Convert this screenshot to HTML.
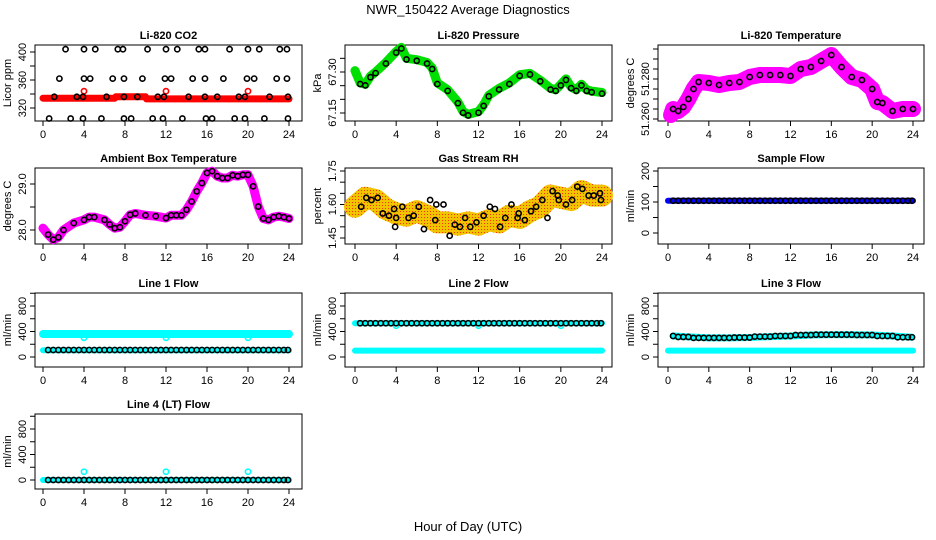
<!DOCTYPE html>
<html><head><meta charset="utf-8"><style>
body{margin:0;background:#fff;}
svg{display:block;font-family:"Liberation Sans",sans-serif;}
</style></head><body>
<svg id="chart" width="936" height="540" xmlns="http://www.w3.org/2000/svg">
<text x="468" y="14" text-anchor="middle" font-size="13">NWR_150422  Average Diagnostics</text>
<text x="468" y="531" text-anchor="middle" font-size="13">Hour of Day (UTC)</text>
</svg>
<script>
// ---- data ----
const xTicks=[0,4,8,12,16,20,24];
const halfHours=[0.5,1,1.5,2,2.5,3,3.5,4,4.5,5,5.5,6,6.5,7,7.5,8,8.5,9,9.5,10,10.5,11,11.5,12,12.5,13,13.5,14,14.5,15,15.5,16,16.5,17,17.5,18,18.5,19,19.5,20,20.5,21,21.5,22,22.5,23,23.5,23.9];
const co2Hours404=[2.2,4,5.1,7.3,7.8,10.2,12,13.1,15.2,15.8,18.2,20,21.1,23.1,23.8];
const co2Hours362=[1.6,4,4.6,6.8,7.9,9.7,11.9,12.5,14.6,15.8,17.6,19.9,20.6,22.8,23.8];
const co2Hours336=[1.1,3.3,3.9,6.2,7.9,9.2,11.2,11.8,14.2,15.8,17,19.1,19.7,22.1,23.9];
const co2Hours305=[0.6,2.7,3.9,5.7,7.9,8.6,10.7,11.7,13.6,15.9,16.5,18.7,19.7,21.6,23.9];
const co2BandHours=[0,7,7.1,10,10.1,24];
const co2BandValues=[334,334,336,336,333,333];
const spikeHours=[4,12,20];
const co2Spike=[344,344,344];
const presHours=[0,0.5,1,1.5,2,3,4,4.5,5,6,7,7.5,8,9,10,10.5,11,12,12.5,13,14,15,16,17,18,19,19.5,20,20.5,21,21.5,22,22.5,23,24];
const presValues=[67.305,67.26,67.255,67.285,67.30,67.335,67.375,67.39,67.35,67.345,67.335,67.315,67.26,67.235,67.19,67.155,67.145,67.155,67.18,67.215,67.24,67.26,67.29,67.295,67.27,67.24,67.235,67.255,67.275,67.245,67.235,67.255,67.235,67.23,67.225];
const tempHours=[0.3,0.5,1,1.5,2,2.5,3,4,5,6,7,8,9,10,11,12,13,14,15,16,17,18,19,20,20.5,21,22,23,24];
const tempValues=[51.262,51.265,51.264,51.266,51.270,51.275,51.2785,51.278,51.277,51.278,51.2785,51.281,51.282,51.282,51.282,51.2815,51.285,51.286,51.289,51.292,51.286,51.281,51.2795,51.275,51.2685,51.268,51.264,51.265,51.265];
const ambHours=[0,0.5,1,1.5,2,3,4,4.5,5,6,6.5,7,7.5,8,8.5,9,10,11,12,12.5,13,13.5,14,14.5,15,15.5,16,16.5,17,17.5,18,18.5,19,19.5,20,20.5,21,21.5,22,22.5,23,23.5,24];
const ambValues=[28.04,27.9,27.79,27.84,28.0,28.15,28.22,28.28,28.28,28.22,28.12,28.04,28.06,28.19,28.33,28.36,28.32,28.30,28.26,28.32,28.32,28.32,28.44,28.62,28.84,29.02,29.24,29.28,29.17,29.13,29.13,29.19,29.17,29.20,29.20,28.95,28.51,28.25,28.22,28.28,28.30,28.28,28.25];
const rhHours=[0,1,2,3,4,5,6,7,8,9,10,11,12,13,14,15,16,17,18,19,20,21,22,23,24];
const rhValues=[1.59,1.63,1.62,1.58,1.56,1.55,1.57,1.55,1.52,1.52,1.51,1.52,1.51,1.53,1.52,1.55,1.54,1.57,1.59,1.64,1.63,1.62,1.66,1.64,1.64];
const rhPtHours=[0.6,1.1,1.6,2.2,2.7,3.3,3.8,3.9,4,4.6,5.2,5.7,6.2,6.7,7.3,7.8,7.9,8.6,9.2,9.7,10.2,10.7,11.2,11.8,12.5,13.1,13.6,14.1,14.6,15.2,15.8,15.9,16.5,17.1,17.6,18.2,18.7,19.2,19.7,19.8,20.5,21.1,21.6,22.1,22.7,23.2,23.8,23.9];
const rhPtValues=[1.59,1.63,1.62,1.63,1.56,1.55,1.58,1.50,1.54,1.59,1.54,1.55,1.59,1.49,1.62,1.53,1.60,1.60,1.46,1.51,1.50,1.54,1.50,1.52,1.55,1.59,1.58,1.50,1.54,1.60,1.54,1.56,1.53,1.57,1.59,1.62,1.54,1.66,1.64,1.62,1.60,1.62,1.68,1.67,1.64,1.64,1.65,1.62];
const sampleFlow=104;
const line1High=360, line1Low=105, line1Dip=300;
const line2High=530, line2Low=100, line2Dip=490;
const line3Hours=[0.5,2,4,6,8,10,12,14,16,18,20,22,23.9];
const line3Values=[330,315,300,300,305,320,330,345,350,350,345,330,310];
const line3Low=100;
const line4Base=0, line4Spike=130;

// ---- drawing helpers ----
const svg=document.getElementById('chart');
const NS='http://www.w3.org/2000/svg';
function mk(tag,attrs,parent){const e=document.createElementNS(NS,tag);for(const k in attrs)e.setAttribute(k,attrs[k]);(parent||svg).appendChild(e);return e;}
const defs=mk('defs',{});
const pat=mk('pattern',{id:'rhdots',width:3,height:3,patternUnits:'userSpaceOnUse'},defs);
mk('rect',{width:3,height:3,fill:'#f2c400'},pat);
mk('rect',{x:1,y:1,width:1,height:1,fill:'#ff3300'},pat);
const cols=[{L:35,R:302,x0:43,x24:289},{L:345,R:612,x0:355,x24:602},{L:658,R:924,x0:668,x24:913}];
const rows=[{T:45,B:121},{T:168,B:244},{T:293,B:367},{T:414,B:489}];
function panel(name,title,ylab,c,r,v1,p1,v2,p2,ticks,labels){
  const C=cols[c],R=rows[r];
  const g=mk('g',{});
  
  
  const X=h=>C.x0+(h/24)*(C.x24-C.x0);
  const Y=v=>p1+(v-v1)*(p2-p1)/(v2-v1);
  const t=mk('text',{x:(C.L+C.R)/2,y:R.T-6,'text-anchor':'middle','font-size':11,'font-weight':'bold'},g);
  t.textContent=title;
  
  
  mk('rect',{x:C.L,y:R.T,width:C.R-C.L,height:R.B-R.T,fill:'none',stroke:'#000','stroke-width':1},g);
  xTicks.forEach(h=>{mk('line',{x1:X(h),x2:X(h),y1:R.B,y2:R.B+5,stroke:'#000'},g);
    const l=mk('text',{x:X(h),y:R.B+17,'text-anchor':'middle','font-size':11},g);l.textContent=h;
    
    });
  ticks.forEach(v=>{mk('line',{x1:C.L-5,x2:C.L,y1:Y(v),y2:Y(v),stroke:'#000'},g);});
  labels.forEach(v=>{const yy=Y(v[0]);const l=mk('text',{x:C.L-9,y:yy,'text-anchor':'middle','font-size':11,transform:`rotate(-90 ${C.L-9} ${yy})`},g);l.textContent=v[1];
    
    });
  const yl=mk('text',{x:C.L-24,y:(R.T+R.B)/2,'text-anchor':'middle','font-size':11,transform:`rotate(-90 ${C.L-24} ${(R.T+R.B)/2})`},g);
  yl.textContent=ylab;
  
  
  const clip=mk('g',{},g);
  return {X,Y,g:clip};
}
function band(P,hs,vs,color,w,name){
  const pts=hs.map((h,i)=>P.X(h)+','+P.Y(vs[i])).join(' ');
  const e=mk('polyline',{points:pts,fill:'none',stroke:color,'stroke-width':w,'stroke-linejoin':'round','stroke-linecap':'round'},P.g);
  
  
}
function pts(P,hs,vs,color,name,r){
  hs.forEach((h,i)=>{const e=mk('circle',{cx:P.X(h),cy:P.Y(vs[i]),r:r||2.6,fill:'none',stroke:color,'stroke-width':1.6},P.g);
    
    });
}
const rep=(n,v)=>Array(n).fill(v);
const full=[0,24];

// CO2
let P=panel('co2','Li-820 CO2','Licor ppm',0,0,400,52,320,108,[320,340,360,380,400],[[320,'320'],[360,'360'],[400,'400']]);
band(P,co2BandHours,co2BandValues,'#f00',7,'co2-band');
pts(P,spikeHours,co2Spike,'#f00','co2-spike-point');
pts(P,co2Hours404,rep(15,404),'#000','co2-point');
pts(P,co2Hours362,rep(15,362),'#000','co2-point');
pts(P,co2Hours336,rep(15,336),'#000','co2-point');
pts(P,co2Hours305,rep(15,305),'#000','co2-point');
// Pressure
P=panel('pressure','Li-820 Pressure','kPa',1,0,67.30,72,67.15,113,[67.15,67.20,67.25,67.30,67.35],[[67.15,'67.15'],[67.30,'67.30']]);
band(P,presHours,presValues,'#00e000',9,'pressure-band');
pts(P,presHours.slice(1),presValues.slice(1).map(v=>v-0.004),'#000','pressure-point');
// Temperature
P=panel('temperature','Li-820 Temperature','degrees C',2,0,51.280,79,51.260,119,[51.26,51.265,51.27,51.275,51.28,51.285,51.29,51.295],[[51.26,'51.260'],[51.28,'51.280']]);
band(P,tempHours,tempValues,'#f0f',16,'temperature-band');
pts(P,tempHours.slice(1),tempValues.slice(1),'#000','temperature-point');
// Ambient
P=panel('ambient','Ambient Box Temperature','degrees C',0,1,29.0,184,28.0,230,[28.0,28.5,29.0],[[28.0,'28.0'],[29.0,'29.0']]);
band(P,ambHours,ambValues,'#f0f',9,'ambient-band');
pts(P,ambHours.slice(1),ambValues.slice(1),'#000','ambient-point');
// RH
P=panel('rh','Gas Stream RH','percent',1,1,1.75,171,1.45,238,[1.45,1.5,1.55,1.6,1.65,1.7,1.75],[[1.45,'1.45'],[1.60,'1.60'],[1.75,'1.75']]);
band(P,rhHours,rhValues,'url(#rhdots)',22,'rh-band');
pts(P,rhPtHours,rhPtValues,'#000','rh-point');
// Sample flow
P=panel('sample-flow','Sample Flow','ml/min',2,1,200,171,0,233,[0,50,100,150,200],[[0,'0'],[100,'100'],[200,'200']]);
band(P,full,[sampleFlow,sampleFlow],'#00f',6,'sample-flow-band');
pts(P,halfHours,rep(halfHours.length,sampleFlow),'#000','sample-flow-point');
// Line 1
const fTicks=[0,200,400,600,800,1000],fLabels=[[0,'0'],[400,'400'],[800,'800']];
P=panel('line1','Line 1 Flow','ml/min',0,2,0,357,800,306,fTicks,fLabels);
band(P,full,[line1High,line1High],'#0ff',8,'line1-high-band');
band(P,full,[line1Low,line1Low],'#0ff',6,'line1-low-band');
pts(P,spikeHours,rep(3,line1Dip),'#0ff','line1-dip');
pts(P,halfHours,rep(halfHours.length,line1Low+5),'#000','line1-point');
// Line 2
P=panel('line2','Line 2 Flow','ml/min',1,2,0,357,800,306,fTicks,fLabels);
band(P,full,[line2High,line2High],'#0ff',6,'line2-high-band');
band(P,full,[line2Low,line2Low],'#0ff',6,'line2-low-band');
pts(P,spikeHours,rep(3,line2Dip),'#0ff','line2-dip');
pts(P,halfHours,rep(halfHours.length,line2High),'#000','line2-point');
// Line 3
P=panel('line3','Line 3 Flow','ml/min',2,2,0,357,800,306,fTicks,fLabels);
band(P,line3Hours,line3Values,'#0ff',7,'line3-high-band');
band(P,full,[line3Low,line3Low],'#0ff',6,'line3-low-band');
pts(P,halfHours,halfHours.map(h=>{let i=line3Hours.findIndex(x=>x>=h);return line3Values[Math.max(0,i)];}),'#000','line3-point');
// Line 4
P=panel('line4','Line 4 (LT) Flow','ml/min',0,3,0,480,800,429,fTicks,fLabels);
band(P,full,[line4Base,line4Base],'#0ff',6,'line4-band');
pts(P,spikeHours,rep(3,line4Spike),'#0ff','line4-spike');
pts(P,halfHours,rep(halfHours.length,line4Base),'#000','line4-point');
</script>
</body></html>
